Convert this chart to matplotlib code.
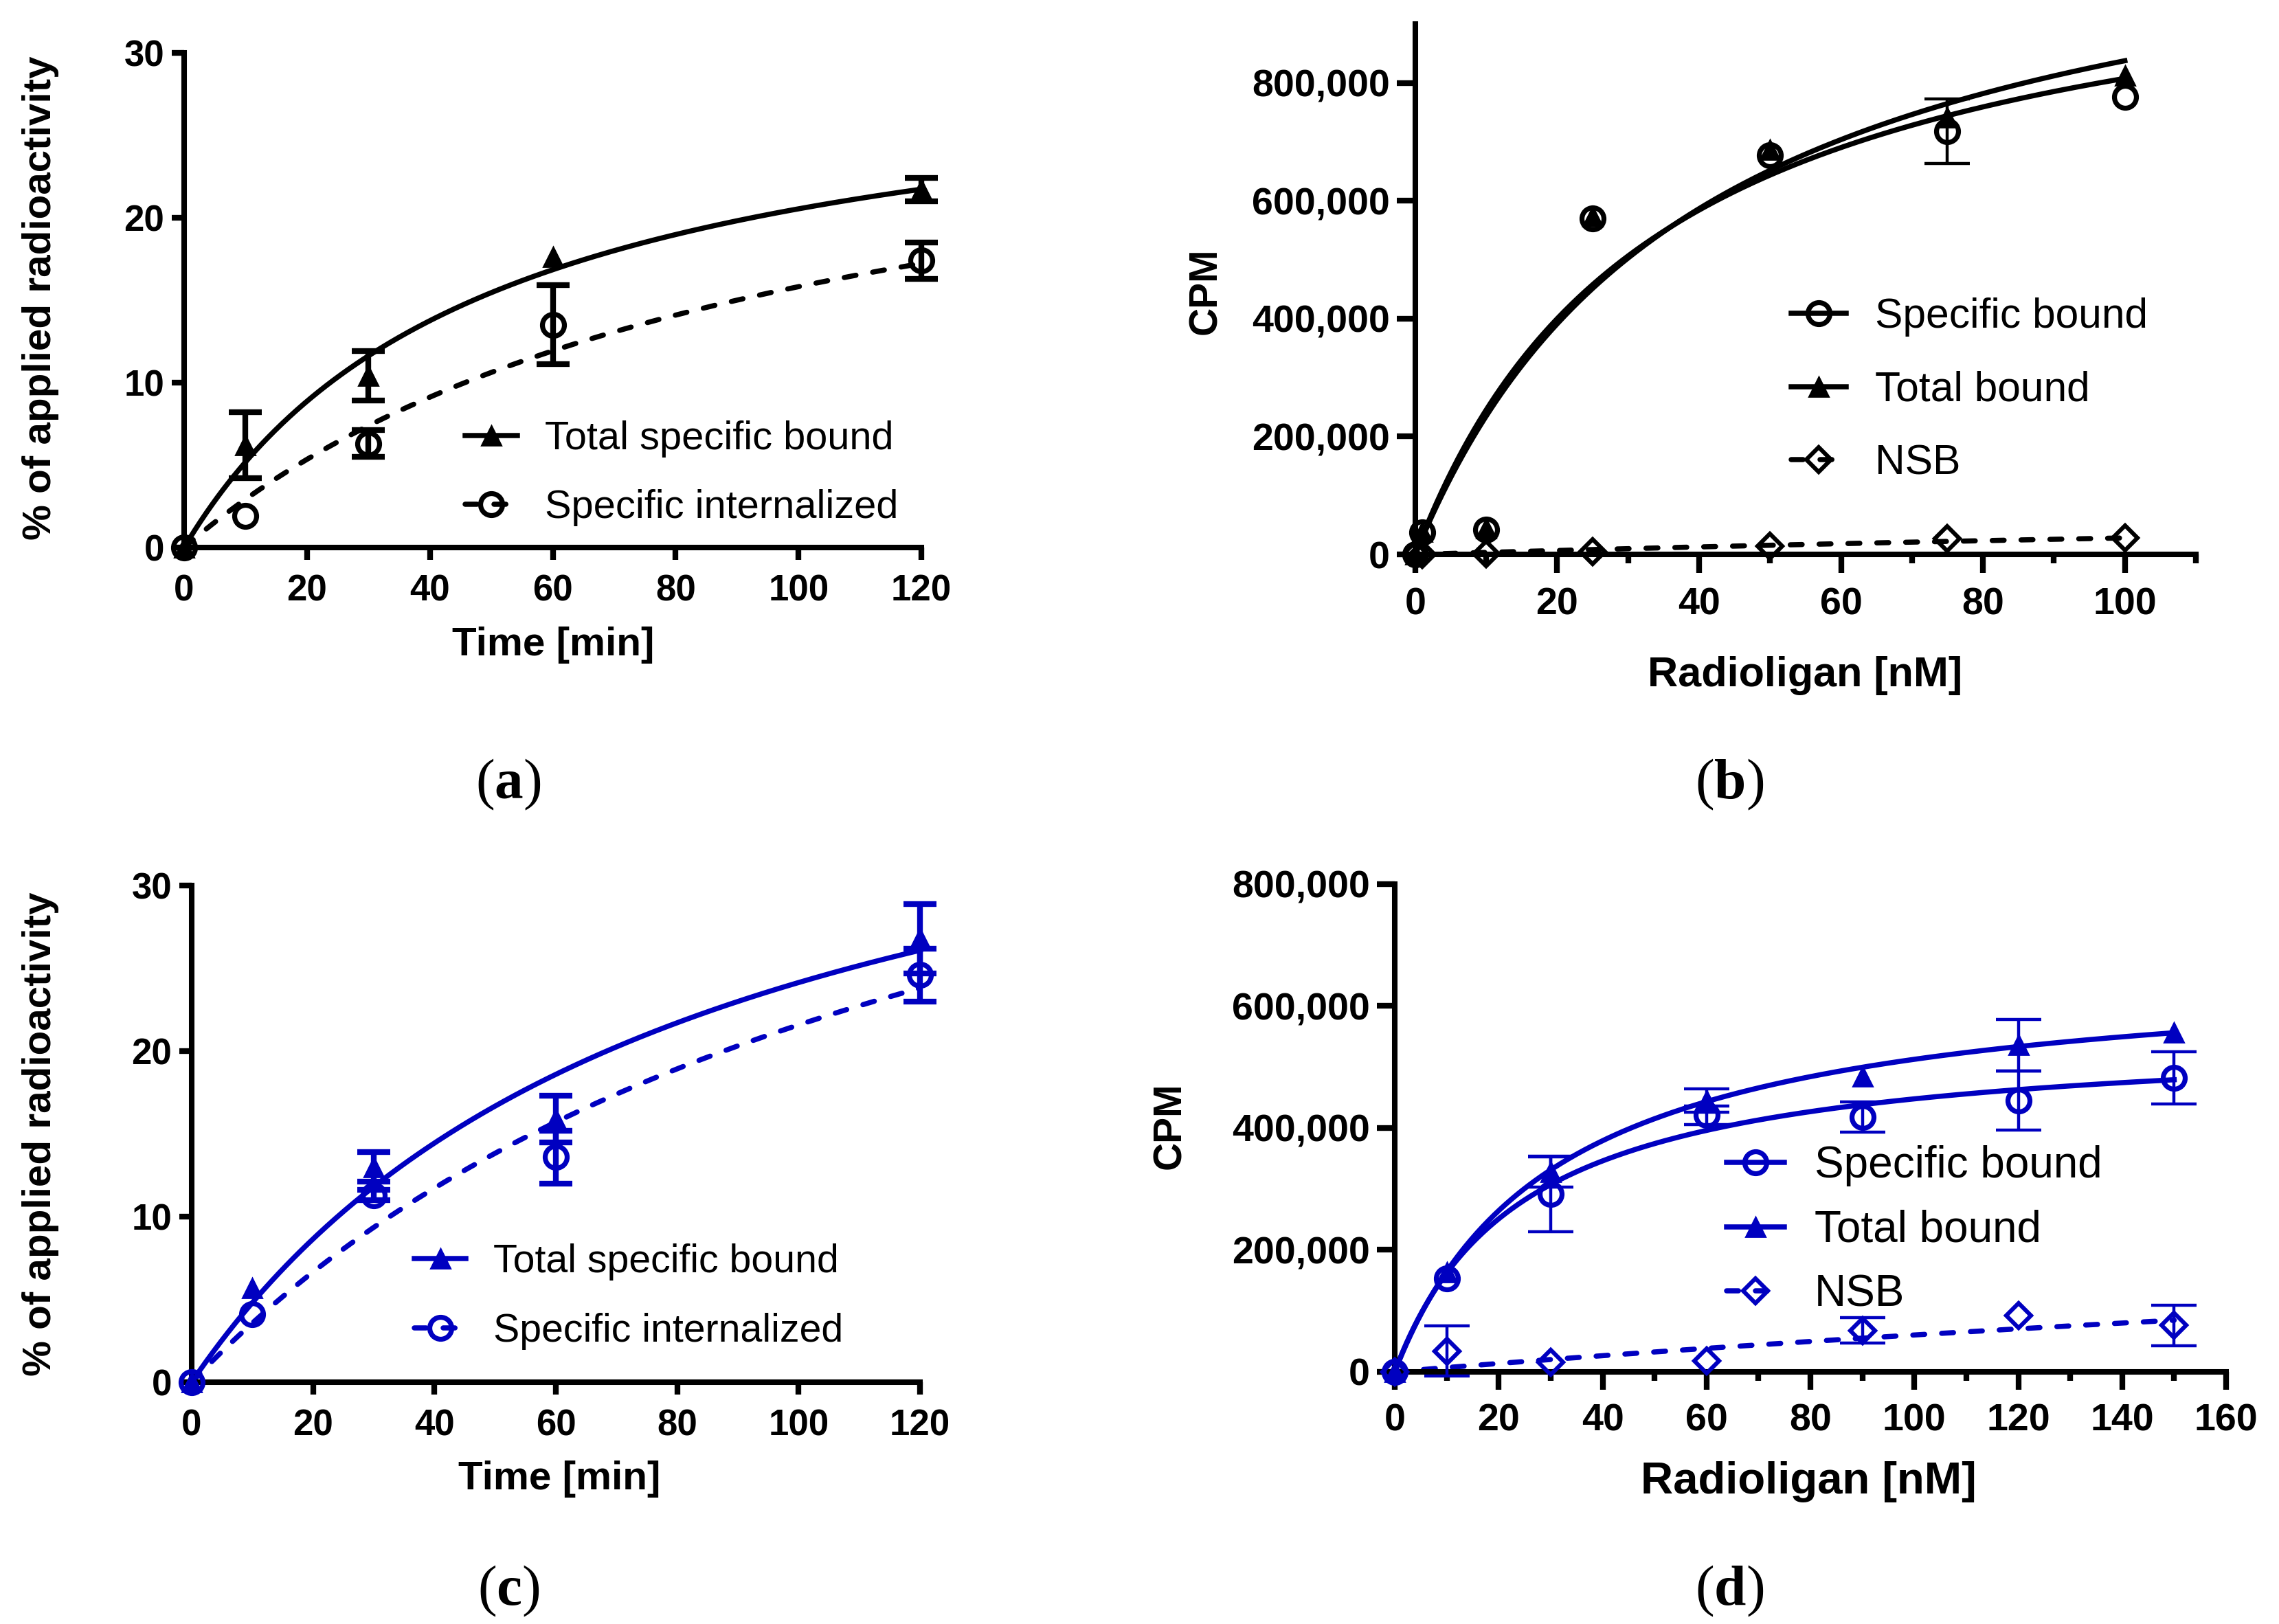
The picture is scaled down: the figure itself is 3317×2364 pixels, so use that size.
import numpy as np
import matplotlib.pyplot as plt
from matplotlib.lines import Line2D
from matplotlib.ticker import MultipleLocator, StrMethodFormatter

plt.rcParams['font.family'] = ['Liberation Sans', 'DejaVu Sans']
plt.rcParams['font.weight'] = 'bold'
plt.rcParams['axes.labelweight'] = 'bold'
plt.rcParams['mathtext.fontset'] = 'custom'
plt.rcParams['mathtext.rm'] = 'Liberation Serif'
plt.rcParams['mathtext.bf'] = 'Liberation Serif:bold'

BLACK = '#000000'
BLUE = '#0000C0'

# (a) internalization kinetics, black
time_a = [0, 10, 30, 60, 120]
total_a = [0, 6.2, 10.4, 17.6, 21.7]
total_a_err = [0, 2.0, 1.5, 0.0, 0.7]
intern_a = [0, 1.9, 6.3, 13.5, 17.4]
intern_a_err = [0, 0.0, 0.8, 2.4, 1.1]
fit_a_total = (30.6, 49.0)      # Bmax, K of the drawn fit curve
fit_a_intern = (31.0, 96.0)

# (b) saturation binding, black
conc_b = [0, 1, 10, 25, 50, 75, 100]
spec_b = [0, 37e3, 42e3, 570e3, 677e3, 718e3, 777e3]
spec_b_err = [0, 0, 0, 0, 0, 55e3, 0]
total_b = [0, 38e3, 44e3, 574e3, 687e3, 742e3, 812e3]
total_b_err = [0, 0, 0, 0, 0, 0, 0]
nsb_b = [0, 0, 1e3, 5e3, 14e3, 27e3, 28e3]
nsb_b_err = [0, 0, 0, 0, 0, 0, 0]
fit_b_spec = (1084e3, 34.2)
fit_b_total = (1172e3, 39.9)
fit_b_nsb = (137e3, 389.0)

# (c) internalization kinetics, blue
time_c = [0, 10, 30, 60, 120]
total_c = [0, 5.7, 13.0, 15.9, 26.8]
total_c_err = [0, 0.0, 0.9, 1.4, 2.1]
intern_c = [0, 4.1, 11.3, 13.6, 24.6]
intern_c_err = [0, 0.0, 0.3, 1.6, 1.6]
fit_c_total = (43.7, 81.0)
fit_c_intern = (49.1, 127.5)

# (d) saturation binding, blue
conc_d = [0, 10, 30, 60, 90, 120, 150]
spec_d = [0, 153e3, 292e3, 421e3, 418e3, 445e3, 482e3]
spec_d_err = [0, 0, 62e3, 15e3, 25e3, 48e3, 43e3]
total_d = [0, 163e3, 328e3, 445e3, 484e3, 536e3, 556e3]
total_d_err = [0, 0, 25e3, 19e3, 0, 42e3, 0]
nsb_d = [0, 34e3, 16e3, 18e3, 68e3, 92e3, 76e3]
nsb_d_err = [0, 41e3, 0, 0, 21e3, 0, 33e3]
fit_d_spec = (557e3, 24.4)
fit_d_total = (670e3, 30.7)
fit_d_nsb = (420e3, 595.0)

DASH = (0, (2.3, 3.3))
LW = 2.7
MARKERS = {
    'tri': dict(marker='^', ms=10.3, mew=1.0, filled=True),
    'circ': dict(marker='o', ms=11.5, mew=2.6, filled=False),
    'diam': dict(marker='D', ms=9.0, mew=2.2, filled=False),
}


def hyperbola(x, bmax, k):
    return bmax * x / (k + x)


def marker_kw(kind, color):
    m = MARKERS[kind]
    return dict(marker=m['marker'], ms=m['ms'], mew=m['mew'], mec=color,
                mfc=color if m['filled'] else 'none')


def draw_series(ax, x, y, err, fit, xmax, color, kind, ls, elw, cap):
    x = np.asarray(x, float)
    y = np.asarray(y, float)
    err = np.asarray(err, float)
    xf = np.linspace(0, xmax, 400)
    ax.plot(xf, hyperbola(xf, *fit), color=color, lw=LW, ls=ls,
            dash_capstyle='round', clip_on=False, zorder=2)
    has = err > 0
    if has.any():
        ax.errorbar(x[has], y[has], yerr=err[has], fmt='none', ecolor=color,
                    elinewidth=elw, capsize=cap, capthick=elw,
                    clip_on=False, zorder=3)
    ax.plot(x, y, ls='none', clip_on=False, zorder=4, **marker_kw(kind, color))


def handle(color, kind, ls):
    return Line2D([], [], color=color, lw=LW, ls=ls, dash_capstyle='round',
                  **marker_kw(kind, color))


def style_axes(ax, major_len, minor_len, xpad, ypad, labelsize):
    for side in ['top', 'right']:
        ax.spines[side].set_visible(False)
    for side in ['left', 'bottom']:
        ax.spines[side].set_linewidth(2.9)
    ax.tick_params(which='major', direction='out', width=3, length=major_len,
                   labelsize=labelsize, colors=BLACK)
    ax.tick_params(which='minor', direction='out', width=3, length=minor_len)
    ax.tick_params(axis='x', pad=xpad)
    ax.tick_params(axis='y', pad=ypad)


def set_labels(ax, xlabel, ylabel, xsize, ysize, xpos, ypos):
    ax.set_xlabel(xlabel, fontsize=xsize, fontweight='bold')
    ax.set_ylabel(ylabel, fontsize=ysize, fontweight='bold')
    ax.xaxis.label.set_va('center')
    ax.yaxis.label.set_va('center')
    ax.xaxis.set_label_coords(*xpos)
    ax.yaxis.set_label_coords(*ypos)


fig = plt.figure(figsize=(16.585, 11.82), dpi=200)
ax_a = fig.add_axes([0.0808, 0.6629, 0.3235, 0.3046])
ax_b = fig.add_axes([0.6210, 0.6586, 0.3425, 0.3266])
ax_c = fig.add_axes([0.0841, 0.1489, 0.3196, 0.3058])
ax_d = fig.add_axes([0.6120, 0.1553, 0.3648, 0.3003])

# kinetics panels
for ax, color, t, tot, tot_e, itn, itn_e, f_tot, f_itn in [
        (ax_a, BLACK, time_a, total_a, total_a_err, intern_a, intern_a_err,
         fit_a_total, fit_a_intern),
        (ax_c, BLUE, time_c, total_c, total_c_err, intern_c, intern_c_err,
         fit_c_total, fit_c_intern)]:
    draw_series(ax, t, tot, tot_e, f_tot, 120, color, 'tri', '-', 3.0, 8.5)
    draw_series(ax, t, itn, itn_e, f_itn, 120, color, 'circ', DASH, 3.0, 8.5)
    ax.set_xlim(0, 120)
    ax.set_ylim(0, 30)
    ax.xaxis.set_major_locator(MultipleLocator(20))
    ax.yaxis.set_major_locator(MultipleLocator(10))
    style_axes(ax, 6.4, 0, 7.5, 4.0, 19)

ax_a.legend([handle(BLACK, 'tri', '-'), handle(BLACK, 'circ', DASH)],
            ['Total specific bound', 'Specific internalized'],
            loc='center left', bbox_to_anchor=(0.381, 0.150), frameon=False,
            prop={'size': 20.8, 'weight': 'normal'}, handlelength=1.31,
            handletextpad=0.7, labelspacing=0.8, borderpad=0, borderaxespad=0)
ax_c.legend([handle(BLUE, 'tri', '-'), handle(BLUE, 'circ', DASH)],
            ['Total specific bound', 'Specific internalized'],
            loc='center left', bbox_to_anchor=(0.306, 0.172), frameon=False,
            prop={'size': 20.6, 'weight': 'normal'}, handlelength=1.31,
            handletextpad=0.7, labelspacing=0.83, borderpad=0, borderaxespad=0)
set_labels(ax_a, 'Time [min]', '% of applied radioactivity', 21, 21,
           (0.501, -0.197), (-0.195, 0.504))
set_labels(ax_c, 'Time [min]', '% of applied radioactivity', 21, 21,
           (0.505, -0.195), (-0.2075, 0.50))

# saturation panel (b)
draw_series(ax_b, conc_b, spec_b, spec_b_err, fit_b_spec, 100, BLACK, 'circ', '-', 1.6, 12)
draw_series(ax_b, conc_b, total_b, total_b_err, fit_b_total, 100, BLACK, 'tri', '-', 1.6, 12)
draw_series(ax_b, conc_b, nsb_b, nsb_b_err, fit_b_nsb, 100, BLACK, 'diam', DASH, 1.6, 12)
ax_b.set_xlim(0, 110)
ax_b.set_ylim(0, 900000)
ax_b.xaxis.set_major_locator(MultipleLocator(20))
ax_b.xaxis.set_minor_locator(MultipleLocator(10))
ax_b.set_yticks([0, 200000, 400000, 600000, 800000])
ax_b.yaxis.set_major_formatter(StrMethodFormatter('{x:,.0f}'))
style_axes(ax_b, 9.7, 4.5, 7.5, 3.6, 20)
ax_b.legend([handle(BLACK, 'circ', '-'), handle(BLACK, 'tri', '-'),
             handle(BLACK, 'diam', DASH)],
            ['Specific bound', 'Total bound', 'NSB'],
            loc='center left', bbox_to_anchor=(0.482, 0.309), frameon=False,
            prop={'size': 21.8, 'weight': 'normal'}, handlelength=1.31,
            handletextpad=0.7, labelspacing=0.82, borderpad=0, borderaxespad=0)
set_labels(ax_b, 'Radioligan [nM]', 'CPM', 22, 20.5,
           (0.499, -0.228), (-0.268, 0.497))

# saturation panel (d)
draw_series(ax_d, conc_d, spec_d, spec_d_err, fit_d_spec, 150, BLUE, 'circ', '-', 1.6, 12)
draw_series(ax_d, conc_d, total_d, total_d_err, fit_d_total, 150, BLUE, 'tri', '-', 1.6, 12)
draw_series(ax_d, conc_d, nsb_d, nsb_d_err, fit_d_nsb, 150, BLUE, 'diam', DASH, 1.6, 12)
ax_d.set_xlim(0, 160)
ax_d.set_ylim(0, 800000)
ax_d.xaxis.set_major_locator(MultipleLocator(20))
ax_d.xaxis.set_minor_locator(MultipleLocator(10))
ax_d.set_yticks([0, 200000, 400000, 600000, 800000])
ax_d.yaxis.set_major_formatter(StrMethodFormatter('{x:,.0f}'))
style_axes(ax_d, 9.5, 4.6, 7.0, 3.6, 20)
ax_d.legend([handle(BLUE, 'circ', '-'), handle(BLUE, 'tri', '-'),
             handle(BLUE, 'diam', DASH)],
            ['Specific bound', 'Total bound', 'NSB'],
            loc='center left', bbox_to_anchor=(0.399, 0.290), frameon=False,
            prop={'size': 23.0, 'weight': 'normal'}, handlelength=1.31,
            handletextpad=0.7, labelspacing=0.53, borderpad=0, borderaxespad=0)
set_labels(ax_d, 'Radioligan [nM]', 'CPM', 23.5, 20.5,
           (0.498, -0.225), (-0.270, 0.504))

# panel letters
for x, y, letter in [(0.2231, 0.5169, 'a'), (0.7588, 0.5169, 'b'),
                     (0.2231, 0.0203, 'c'), (0.7588, 0.0203, 'd')]:
    fig.text(x, y, r'($\mathbf{%s}$)' % letter, family='Liberation Serif',
             fontweight='normal', fontsize=30, ha='center', va='center')

fig.savefig('out.png', dpi=200)
